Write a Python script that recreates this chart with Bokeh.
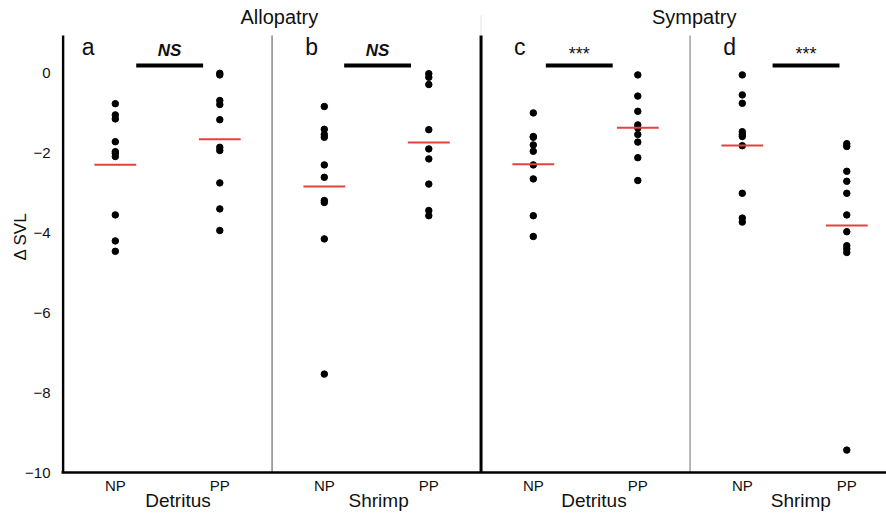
import numpy as np
from bokeh.plotting import figure
from bokeh.models import Range1d, FixedTicker, LinearAxis, Label, ColumnDataSource
from bokeh.embed import file_html
from bokeh.resources import INLINE

# ---- data (Δ SVL per individual) ----
a_np = [-0.78, -1.06, -1.16, -1.73, -1.98, -2.02, -2.10, -3.56, -4.21, -4.47]
a_pp = [-0.02, -0.06, -0.70, -0.80, -1.18, -1.87, -1.95, -2.76, -3.41, -3.95]
b_np = [-0.85, -1.42, -1.55, -1.62, -2.31, -2.62, -3.20, -3.25, -4.16, -7.54]
b_pp = [-0.03, -0.12, -0.30, -1.43, -1.91, -2.16, -2.79, -3.45, -3.58]
c_np = [-1.01, -1.60, -1.62, -1.81, -1.97, -2.31, -2.66, -3.58, -4.10]
c_pp = [-0.06, -0.59, -0.97, -1.31, -1.39, -1.55, -1.74, -2.13, -2.70]
d_np = [-0.06, -0.56, -0.77, -1.48, -1.55, -1.60, -1.83, -3.02, -3.64, -3.74]
d_pp = [-1.78, -1.85, -2.47, -2.72, -3.02, -3.56, -3.98, -4.33, -4.41, -4.50, -9.44]

panel_letters = ["a", "b", "c", "d"]
panel_foods = ["Detritus", "Shrimp", "Detritus", "Shrimp"]
group_labels = ["NP", "PP"]
significance = ["NS", "NS", "***", "***"]
regions = ["Allopatry", "Sympatry"]
y_ticks = [0, -2, -4, -6, -8, -10]

series = [[a_np, a_pp], [b_np, b_pp], [c_np, c_pp], [d_np, d_pp]]

FONT = "Liberation Sans"
Y_TOP_AXIS = 0.925   # top end of the drawn axis lines
Y_MIN, Y_MAX = -10, 1.80

p = figure(width=886, height=513, x_range=Range1d(-0.015, 7.88), y_range=Range1d(Y_MIN, Y_MAX),
           output_backend="svg", toolbar_location=None,
           min_border_left=61, min_border_right=0, min_border_top=0, min_border_bottom=41)
p.title.visible = False
p.outline_line_color = None
p.xgrid.visible = False
p.ygrid.visible = False
p.background_fill_color = "white"

# points and mean bars
xs, ys, mx, mv = [], [], [], []
for i, pair in enumerate(series):
    for j, vals in enumerate(pair):
        cx = 2 * i + 0.5 + j
        xs += [cx] * len(vals)
        ys += list(vals)
        mx.append(cx)
        mv.append(float(np.mean(vals)))

src = ColumnDataSource(dict(x=xs, y=ys))
p.scatter("x", "y", source=src, size=6.5, color="black")
msrc = ColumnDataSource(dict(x0=[x - 0.2 for x in mx], x1=[x + 0.2 for x in mx], y=mv))
p.segment(x0="x0", x1="x1", y0="y", y1="y", source=msrc, line_color="#e4423c", line_width=2)

# left axis line and panel separators
p.segment(x0=[0], x1=[0], y0=[Y_MIN], y1=[Y_TOP_AXIS], line_color="black", line_width=2.5)
p.segment(x0=[2], x1=[2], y0=[Y_MIN], y1=[Y_TOP_AXIS], line_color="#6b6b6b", line_width=1.2)
p.segment(x0=[4], x1=[4], y0=[Y_TOP_AXIS], y1=[1.43], line_color="#e2e2e2", line_width=1)
p.segment(x0=[4], x1=[4], y0=[Y_MIN], y1=[Y_TOP_AXIS], line_color="black", line_width=3)
p.segment(x0=[6], x1=[6], y0=[Y_MIN], y1=[Y_TOP_AXIS], line_color="#8a8a8a", line_width=1.2)

# significance bars, letters
bar_starts = [0.70, 0.69, 0.62, 0.79]
letter_off = [0.24, 0.38, 0.37, 0.38]
for i in range(4):
    x0 = 2 * i + bar_starts[i]
    p.segment(x0=[x0], x1=[x0 + 0.64], y0=[0.175], y1=[0.175], line_color="black", line_width=4)
    is_ns = significance[i] == "NS"
    p.add_layout(Label(x=x0 + 0.32, y=0.55 if is_ns else 0.47, text=significance[i],
                       text_align="center", text_baseline="middle",
                       text_font=FONT, text_font_size="17px" if is_ns else "18px",
                       text_font_style="bold italic" if is_ns else "normal",
                       text_color="#111111"))
    p.add_layout(Label(x=2 * i + letter_off[i], y=0.63, text=panel_letters[i],
                       text_align="center", text_baseline="middle",
                       text_font=FONT, text_font_size="23px", text_color="#111111"))

# region titles
for name, xc in zip(regions, [2.07, 6.04]):
    p.add_layout(Label(x=xc, y=1.377, text=name, text_align="center", text_baseline="middle",
                       text_font=FONT, text_font_size="20px", text_color="#111111"))

# y axis
ya = p.yaxis[0]
ya.ticker = FixedTicker(ticks=y_ticks)
ya.major_label_overrides = {t: ("\u2212" + str(-t) if t < 0 else str(t)) for t in y_ticks}
ya.axis_line_color = None
ya.major_tick_line_color = None
ya.minor_tick_line_color = None
ya.major_label_standoff = 5
ya.major_label_text_font = FONT
ya.major_label_text_font_size = "15px"
ya.major_label_text_color = "#111111"
ya.axis_label = "\u0394 SVL"
ya.axis_label_text_font = FONT
ya.axis_label_text_font_size = "17px"
ya.axis_label_text_font_style = "normal"
ya.axis_label_text_color = "#111111"
ya.axis_label_standoff = -8

# x axis: NP / PP
xa = p.xaxis[0]
np_pp_ticks = [2 * i + 0.5 + j for i in range(4) for j in range(2)]
xa.ticker = FixedTicker(ticks=np_pp_ticks)
xa.major_label_overrides = {t: group_labels[k % 2] for k, t in enumerate(np_pp_ticks)}
xa.axis_line_width = 2.5
xa.axis_line_color = "black"
xa.major_tick_line_color = None
xa.minor_tick_line_color = None
xa.major_label_standoff = -2
xa.major_label_text_font = FONT
xa.major_label_text_font_size = "15px"
xa.major_label_text_color = "#111111"

# second x axis: food type
food_ticks = [1.1, 3.02, 5.08, 7.06]
xa2 = LinearAxis(ticker=FixedTicker(ticks=food_ticks),
                 major_label_overrides={t: panel_foods[k] for k, t in enumerate(food_ticks)})
xa2.axis_line_color = None
xa2.major_tick_line_color = None
xa2.minor_tick_line_color = None
xa2.major_label_standoff = -13
xa2.major_label_text_font = FONT
xa2.major_label_text_font_size = "19px"
xa2.major_label_text_color = "#111111"
p.add_layout(xa2, "below")

open("out.html", "w").write(file_html(p, INLINE))
